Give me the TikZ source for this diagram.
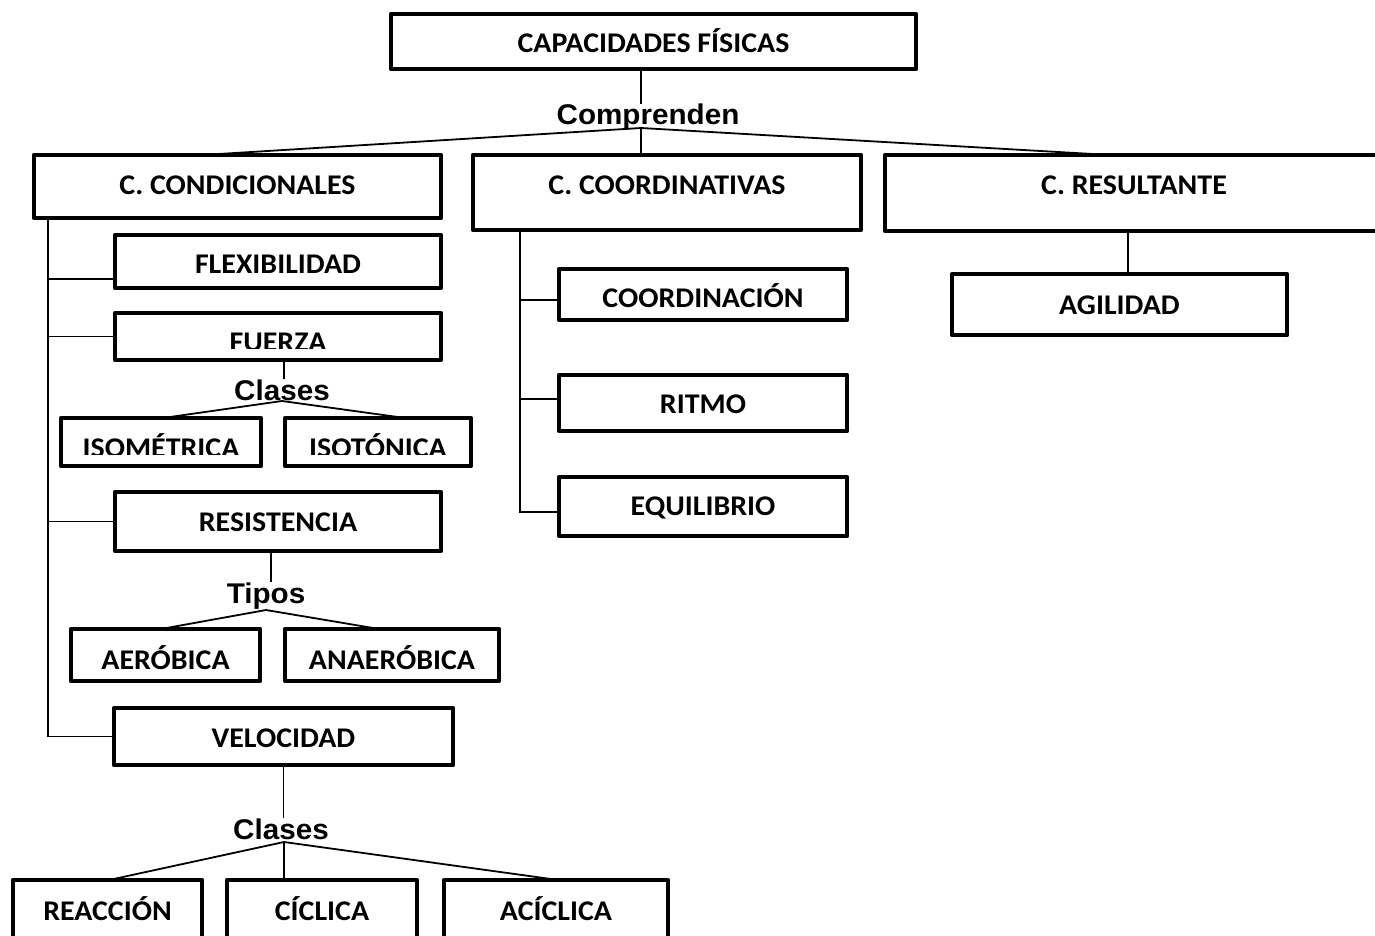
\documentclass[tikz,border=0pt]{standalone}
\usepackage{fontspec}
\setmainfont{Carlito}[FakeStretch=1.05]
\newfontfamily\arialfont{Liberation Sans}[FakeStretch=1.04]
\begin{document}
\begin{tikzpicture}[x=1pt, y=-1pt,
    caja/.style={draw, line width=4.2pt, line join=round, inner sep=0pt, outer sep=0pt,
      anchor=base, font=\fontsize{28.5}{32}\selectfont\bfseries},
    rotulo/.style={inner sep=0pt, anchor=base, font=\fontsize{28.5}{32}\selectfont\arialfont\bfseries},
    enlace/.style={line width=1.8pt}]
    \useasboundingbox (0,0) rectangle (1375,936);
    \clip (0,0) rectangle (1375,936);

    % cajas
    \node[caja, minimum width=525pt, text height=39pt, text depth=16pt] (cap) at (653.5,53) {CAPACIDADES FÍSICAS};
    \node[caja, minimum width=407pt, text height=40pt, text depth=23pt] (cond) at (237.5,195) {C. CONDICIONALES};
    \node[caja, minimum width=388pt, text height=40pt, text depth=35pt] (coord) at (667,195) {C. COORDINATIVAS};
    \node[caja, minimum width=498pt, text height=40pt, text depth=36pt] (result) at (1134,195) {C. RESULTANTE};
    \node[caja, minimum width=335pt, text height=40pt, text depth=21pt] (agil) at (1119.5,314) {AGILIDAD};

    \node[caja, minimum width=326pt, text height=38pt, text depth=15pt] (flex) at (278,273) {FLEXIBILIDAD};
    \node[caja, minimum width=326pt, text height=38pt, text depth=9pt] (fuerza) at (278,351) {FUERZA};
    \node[caja, minimum width=200pt, text height=39pt, text depth=9pt] (isom) at (161,457) {ISOMÉTRICA};
    \node[caja, minimum width=186pt, text height=39pt, text depth=9pt] (isot) at (378,457) {ISOTÓNICA};
    \node[caja, minimum width=326pt, text height=39pt, text depth=20pt] (resist) at (278,531) {RESISTENCIA};
    \node[caja, minimum width=189pt, text height=40pt, text depth=12pt] (aerob) at (165.5,669) {AERÓBICA};
    \node[caja, minimum width=214pt, text height=40pt, text depth=12pt] (anaer) at (392,669) {ANAERÓBICA};
    \node[caja, minimum width=339pt, text height=39pt, text depth=18pt] (veloc) at (283.5,747) {VELOCIDAD};
    \node[caja, minimum width=189pt, text height=40pt, text depth=38pt] (reacc) at (107.5,920) {REACCIÓN};
    \node[caja, minimum width=190pt, text height=40pt, text depth=38pt] (cicl) at (322,920) {CÍCLICA};
    \node[caja, minimum width=224pt, text height=40pt, text depth=38pt] (acicl) at (556,920) {ACÍCLICA};

    \node[caja, minimum width=288pt, text height=38pt, text depth=13pt] (coordin) at (703,307) {COORDINACIÓN};
    \node[caja, minimum width=288pt, text height=38pt, text depth=18pt] (ritmo) at (703,413) {RITMO};
    \node[caja, minimum width=288pt, text height=38pt, text depth=21pt] (equil) at (703,515) {EQUILIBRIO};

    % texto cortado por el borde inferior
    \fill[white] (117,349) rectangle (439,357);
    \fill[white] (63,455) rectangle (259,464);
    \fill[white] (287,455) rectangle (469,464);

    % rotulos
    \node[rotulo] (compr) at (648,125) {Comprenden};
    \node[rotulo] (clases) at (282,400) {Clases};
    \node[rotulo] (tipos) at (266,603) {Tipos};
    \node[rotulo] (clasesv) at (281,839) {Clases};

    \coordinate (jcomp) at (641,128);
    \coordinate (jfue) at (282,401);
    \coordinate (jres) at (266,610);
    \coordinate (jvel) at (284,842);
    \coordinate (tcond) at (48,0);
    \coordinate (tcoord) at (520,0);
    \coordinate (bflex) at ([yshift=-17.5pt]flex.west);
    \coordinate (bcoordin) at ([yshift=-5.5pt]coordin.west);
    \coordinate (britmo) at ([yshift=4pt]ritmo.west);
    \coordinate (bequil) at ([yshift=-5.5pt]equil.west);

    \draw[enlace] (jcomp |- cap.south) -- (jcomp |- compr.north);
    \draw[enlace] (jcomp) -- ([xshift=-35pt]cond.north);
    \draw[enlace] (jcomp) -- (jcomp |- coord.north);
    \draw[enlace] (jcomp) -- ([xshift=-24pt]result.north);

    \draw[enlace] ([xshift=-6pt]result.south) -- ([xshift=-6pt]result.south |- agil.north);

    \draw[enlace] (tcond |- cond.south) |- (veloc.west);
    \draw[enlace] (tcond |- bflex) -- (bflex);
    \draw[enlace] (tcond |- fuerza.west) -- (fuerza.west);
    \draw[enlace] (tcond |- resist.west) -- (resist.west);

    \draw[enlace] (tcoord |- coord.south) |- (bequil);
    \draw[enlace] (tcoord |- bcoordin) -- (bcoordin);
    \draw[enlace] (tcoord |- britmo) -- (britmo);

    \draw[enlace] ([xshift=6pt]fuerza.south) -- ([xshift=6pt]fuerza.south |- clases.north);
    \draw[enlace] ([xshift=2pt]isom.north) -- (jfue) -- ([xshift=27pt]isot.north);

    \draw[enlace] ([xshift=-7pt]resist.south) -- ([xshift=-7pt]resist.south |- tipos.north);
    \draw[enlace] ([xshift=-4.5pt]aerob.north) -- (jres) -- ([xshift=-13pt]anaer.north);

    \draw[enlace] (veloc.south) -- (veloc.south |- clasesv.north);
    \draw[enlace] ([xshift=1.5pt]reacc.north) -- (jvel) -- ([xshift=2pt]acicl.north);
    \draw[enlace] (jvel) -- ([xshift=-38pt]cicl.north);
\end{tikzpicture}
\end{document}
